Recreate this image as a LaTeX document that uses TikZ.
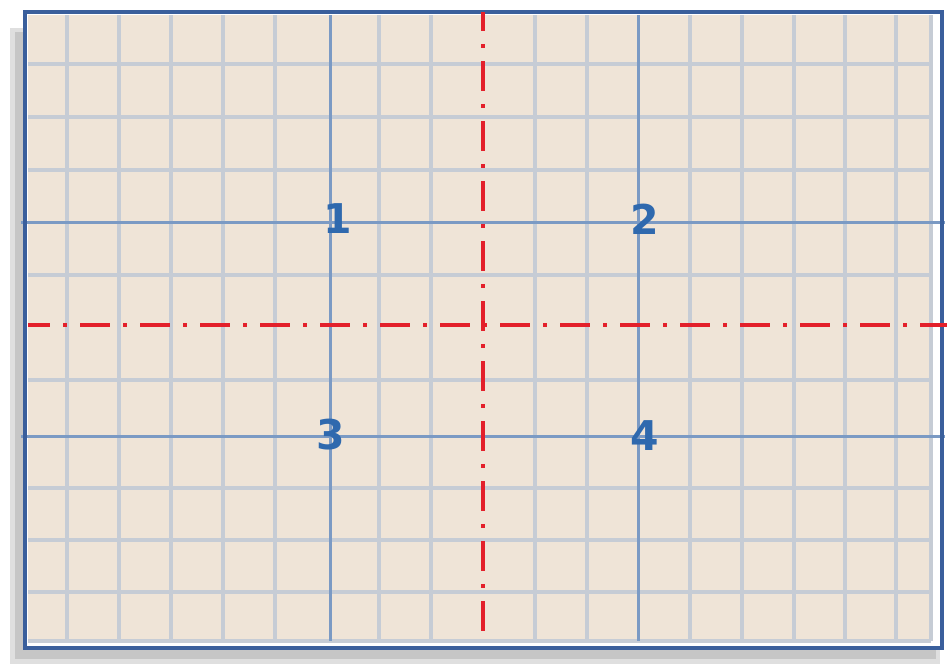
\documentclass[tikz,border=0pt]{standalone}
\usepackage{fontspec}
\newfontfamily\quadrantFont{DejaVu Sans}
\begin{document}
\begin{tikzpicture}[x=1pt, y=-1pt]
    \def\paperLeft{28}
    \def\paperTop{15}
    \def\paperRight{931}
    \def\paperBottom{641}

    \definecolor{borderColour}{HTML}{3A5F9C}
    \definecolor{paperColour}{HTML}{EFE4D7}
    \definecolor{gridColour}{HTML}{C6CCD5}
    \definecolor{mainGridColour}{HTML}{7B9AC4}
    \definecolor{axisColour}{HTML}{E3202B}
    \definecolor{numberColour}{HTML}{2F69AE}

    \tikzset{
        quadrant/.style={text=numberColour, inner sep=0pt,
            font=\quadrantFont\bfseries\fontsize{41}{41}\selectfont},
        gridline/.style={gridColour, line width=3.2pt},
        maingridline/.style={mainGridColour, line width=3pt},
        centreline/.style={axisColour, line width=4pt,
            dash pattern=on 30pt off 13pt on 4pt off 13pt}
    }

    \useasboundingbox (0,0) rectangle (950,665);

    % Draw shadow
    \fill[gray!25] (10,28) rectangle (940,664);
    \fill[gray!45] (15,32) rectangle (936,659);

    % Draw sheet and paper
    \fill[white] (25,12) rectangle (942,648);
    \fill[paperColour] (\paperLeft,\paperTop) rectangle (\paperRight,\paperBottom);

    % Draw grid
    \foreach \x in {67,119,171,223,275,379,431,535,587,690,742,794,845,896,\paperRight}
        \draw[gridline] (\x,\paperTop) -- (\x,\paperBottom);
    \foreach \y in {64,117,170,275,380,488,540,592,\paperBottom}
        \draw[gridline] (\paperLeft,\y) -- (\paperRight,\y);

    % Draw main grid lines
    \foreach \x in {330,638}
        \draw[maingridline] (\x,\paperTop) -- (\x,\paperBottom);
    \foreach \y in {222,436}
        \draw[maingridline] (21,\y) -- (945,\y);

    % Draw border
    \draw[borderColour, line width=4.5pt] (25,12) rectangle (942,648);

    % Draw centre lines
    \coordinate (top) at (483,12);
    \coordinate (bottom) at (483,643);
    \coordinate (left) at (\paperLeft,325);
    \coordinate (right) at (947,325);
    \draw[centreline, dash phase=11pt] (top) -- (bottom);
    \draw[centreline, dash phase=8pt] (left) -- (right);

    % Label quadrants
    \node[quadrant] (q1) at (338,219) {1};
    \node[quadrant] (q2) at (645,219) {2};
    \node[quadrant] (q3) at (331,435) {3};
    \node[quadrant] (q4) at (645,436) {4};

\end{tikzpicture}
\end{document}
